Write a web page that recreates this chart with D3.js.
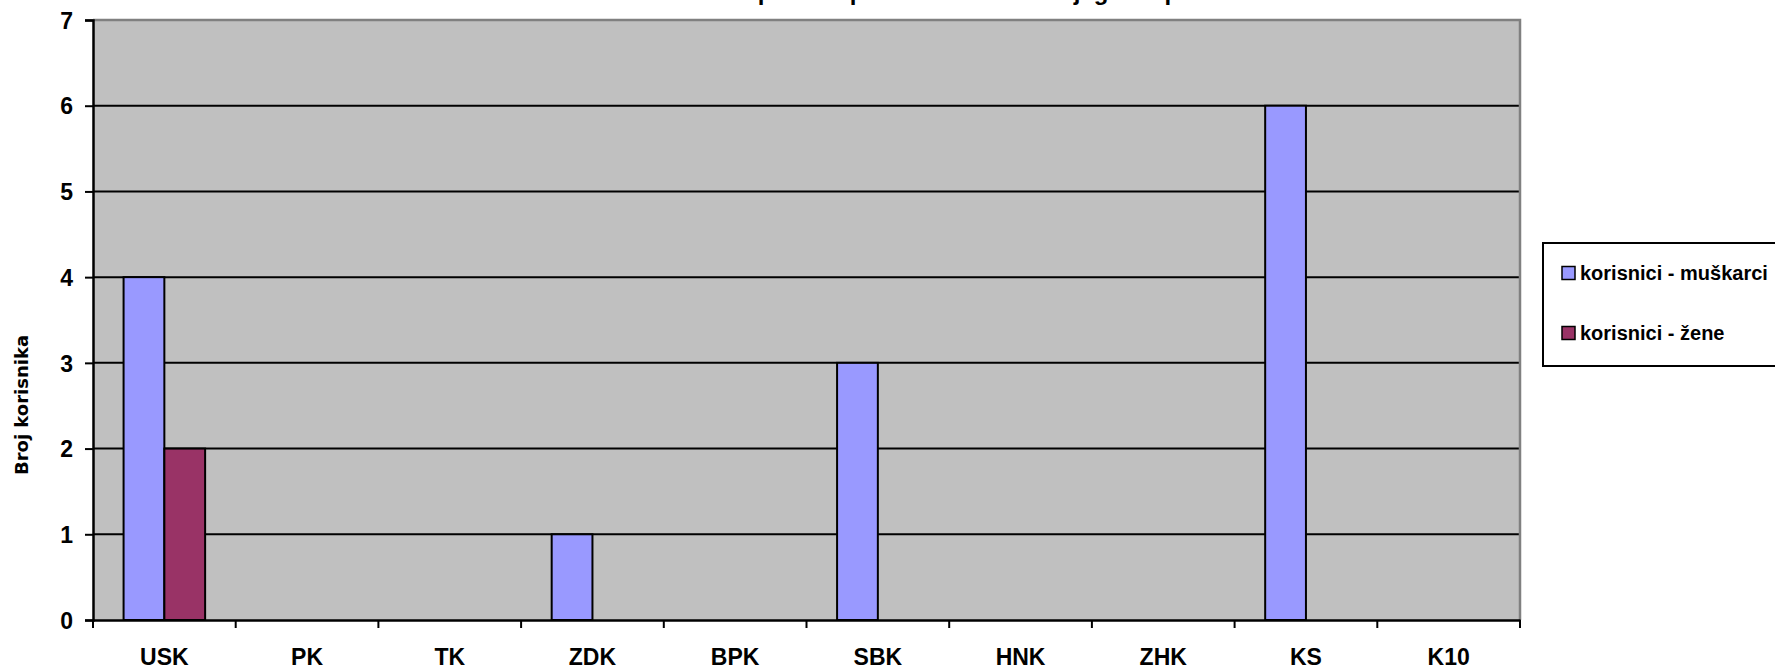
<!DOCTYPE html>
<html>
<head>
<meta charset="utf-8">
<script src="https://cdn.jsdelivr.net/npm/d3@7"></script>
<style>
  html, body { margin: 0; padding: 0; background: #fff; }
  svg { display: block; }
  text { font-family: "Liberation Sans", Arial, sans-serif; font-weight: bold; fill: #000; }
</style>
</head>
<body>
<svg id="chart" width="1775" height="670"></svg>
<script>
const categories = ["USK", "PK", "TK", "ZDK", "BPK", "SBK", "HNK", "ZHK", "KS", "K10"];
const seriesNames = ["korisnici - muškarci", "korisnici - žene"];
const muskarci = [4, 0, 0, 1, 0, 3, 0, 0, 6, 0];
const zene = [2, 0, 0, 0, 0, 0, 0, 0, 0, 0];
const yTicks = [0, 1, 2, 3, 4, 5, 6, 7];
const colors = ["#9999FF", "#993366"];
const titleText = "Struktura korisnika prema spolu i kantonu iz kojeg su upućeni";
const yTitle = "Broj korisnika";

(function () {
const svg = d3.select("#chart");
const pL = 93, pR = 1520, pT = 20, pB = 620;

const x = d3.scaleBand().domain(categories).range([pL, pR]).paddingInner(0).paddingOuter(0);
const bw = x.bandwidth();
const barW = bw / 3.5;
const x1 = d3.scaleBand().domain(seriesNames).range([barW * 0.75, barW * 0.75 + 2 * barW]);
const y = d3.scaleLinear().domain([0, 7]).range([pB, pT]);

// title (mostly above the visible area, as in the reference)
svg.append("text").attr("x", 887).attr("y", 0).attr("text-anchor", "middle")
  .style("font-size", "24px").text(titleText);

// plot background
svg.append("rect").attr("x", pL).attr("y", pT).attr("width", pR - pL).attr("height", pB - pT)
  .attr("fill", "#C0C0C0");

// gridlines
svg.append("g").selectAll("line").data(yTicks.filter(d => d > 0 && d < 7)).join("line")
  .attr("x1", pL).attr("x2", pR).attr("y1", d => y(d)).attr("y2", d => y(d))
  .attr("stroke", "#000").attr("stroke-width", 2);

// top & right border
svg.append("path").attr("d", `M${pL},${pT}H${pR}V${pB}`)
  .attr("fill", "none").attr("stroke", "#808080").attr("stroke-width", 2.5);

// bars
const data = categories.map((c, i) => ({ c, vals: [muskarci[i], zene[i]] }));
const g = svg.append("g");
data.forEach(d => {
  d.vals.forEach((v, j) => {
    if (v <= 0) return;
    g.append("rect")
      .attr("x", x(d.c) + x1(seriesNames[j]))
      .attr("y", y(v))
      .attr("width", x1.bandwidth())
      .attr("height", y(0) - y(v))
      .attr("fill", colors[j]).attr("stroke", "#000").attr("stroke-width", 2);
  });
});

// y axis
const yAxis = d3.axisLeft(y).tickValues(yTicks).tickSize(8).tickPadding(12).tickFormat(d3.format("d"));
const ya = svg.append("g").attr("transform", `translate(${pL},0)`).call(yAxis);
ya.select(".domain").attr("stroke", "#000").attr("stroke-width", 2.5);
ya.selectAll(".tick line").attr("stroke", "#000").attr("stroke-width", 2);
ya.selectAll(".tick text").style("font-size", "23px").attr("dy", "0.36em")
  .style("font-family", '"Liberation Sans", Arial, sans-serif').style("font-weight", "bold");

// x axis
const xAxis = d3.axisBottom(x).tickSize(0).tickPadding(29);
const xa = svg.append("g").attr("transform", `translate(0,${pB})`).call(xAxis);
xa.select(".domain").attr("stroke", "#000").attr("stroke-width", 2.5);
xa.selectAll(".tick text").style("font-size", "23px")
  .style("font-family", '"Liberation Sans", Arial, sans-serif').style("font-weight", "bold");
// category boundary ticks
const bounds = categories.map(c => x(c)).concat([pR]);
svg.append("g").selectAll("line").data(bounds).join("line")
  .attr("x1", d => d).attr("x2", d => d).attr("y1", pB).attr("y2", pB + 8)
  .attr("stroke", "#000").attr("stroke-width", 2);

// y title
svg.append("text").attr("transform", "translate(28,405) rotate(-90)").attr("text-anchor", "middle")
  .style("font-family", '"DejaVu Sans", sans-serif')
  .style("font-size", "18px").text(yTitle);

// legend
svg.append("rect").attr("x", 1543).attr("y", 243).attr("width", 260).attr("height", 123)
  .attr("fill", "#fff").attr("stroke", "#000").attr("stroke-width", 2);
const lg = svg.append("g").selectAll("g").data(seriesNames).join("g")
  .attr("transform", (d, i) => `translate(1562,${273 + i * 60})`);
lg.append("rect").attr("x", 0).attr("y", -6.5).attr("width", 13).attr("height", 13)
  .attr("fill", (d, i) => colors[i]).attr("stroke", "#000").attr("stroke-width", 1.5);
lg.append("text").attr("x", 18).attr("y", 0).attr("dy", "0.35em").style("font-size", "20px").text(d => d);
})();
</script>
</body>
</html>
